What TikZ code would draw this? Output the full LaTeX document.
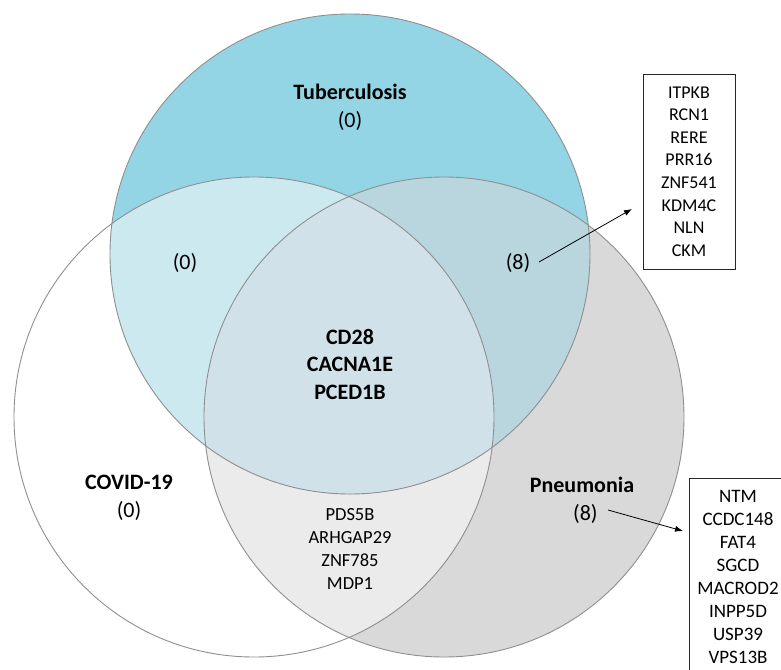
\documentclass[tikz,border=0pt]{standalone}
\usepackage{fontspec}
\setmainfont{Carlito}
\usetikzlibrary{arrows.meta}
\definecolor{tbonly}{HTML}{93D5E4}
\definecolor{tbcov}{HTML}{CDE9F0}
\definecolor{tbpn}{HTML}{B9D6DE}
\definecolor{allthree}{HTML}{D1E1E9}
\definecolor{pnonly}{HTML}{D9D9D9}
\definecolor{pncov}{HTML}{EBEBEB}
\definecolor{rim}{HTML}{8F8F8F}
\tikzset{
  rimline/.style={draw=rim, line width=0.9pt},
  biglabel/.style={align=center, font=\fontsize{22}{28}\selectfont},
  genes/.style={align=center, font=\fontsize{18.5}{23}\selectfont},
  listbox/.style={draw=black!85, line width=0.9pt, align=center, font=\fontsize{18}{22.6}\selectfont},
  pointer/.style={draw=black, line width=0.8pt, -{Latex[length=8pt,width=6pt]}}
}
\begin{document}
\begin{tikzpicture}[x=1pt,y=-1pt]
\useasboundingbox (0,0) rectangle (781,669);
\coordinate (tb) at (350,254);
\coordinate (cov) at (254,417);
\coordinate (pn) at (444,417);
\def\R{240}
% Pneumonia
\fill[pnonly] (pn) circle (\R);
\begin{scope}
  \clip (cov) circle (\R);
  \fill[pncov] (pn) circle (\R);
\end{scope}
% Tuberculosis
\fill[tbonly] (tb) circle (\R);
\begin{scope}
  \clip (tb) circle (\R);
  \fill[tbcov] (cov) circle (\R);
  \fill[tbpn] (pn) circle (\R);
  \clip (cov) circle (\R);
  \fill[allthree] (pn) circle (\R);
\end{scope}
% outlines
\draw[rimline] (cov) circle (\R);
\draw[rimline] (pn) circle (\R);
\draw[rimline] (tb) circle (\R);
% labels
\node[biglabel] (tbl) at (350,107) {\textbf{Tuberculosis}\\(0)};
\node[biglabel] (covl) at (129,498) {\textbf{COVID-19}\\(0)};
\node[biglabel] (pnl) at (582,500) {\textbf{Pneumonia}\\\phantom{(}(8)};
\node[biglabel] (tbcovl) at (185,263) {(0)};
\node[biglabel] (tbpnl) at (518,263) {(8)};
\node[biglabel, font=\fontsize{22}{27.5}\selectfont\bfseries] (core) at (350,364) {CD28\\CACNA1E\\PCED1B};
\node[genes] (pncovl) at (350,548.5) {PDS5B\\ARHGAP29\\ZNF785\\MDP1};
% boxes
\node[listbox, minimum width=92pt, minimum height=195pt] (box1) at (689,171.5)
  {ITPKB\\RCN1\\RERE\\PRR16\\ZNF541\\KDM4C\\NLN\\CKM};
\node[listbox, minimum width=98pt, minimum height=197pt, font=\fontsize{19}{23}\selectfont] (box2) at (738,576.5)
  {NTM\\CCDC148\\FAT4\\SGCD\\MACROD2\\INPP5D\\USP39\\VPS13B};
% arrows
\coordinate (a1s) at (539,262);
\coordinate (a1e) at (632,209);
\coordinate (a2s) at (608,510);
\coordinate (a2e) at (683,531);
\draw[pointer] (a1s) -- (a1e);
\draw[pointer] (a2s) -- (a2e);
\end{tikzpicture}
\end{document}
